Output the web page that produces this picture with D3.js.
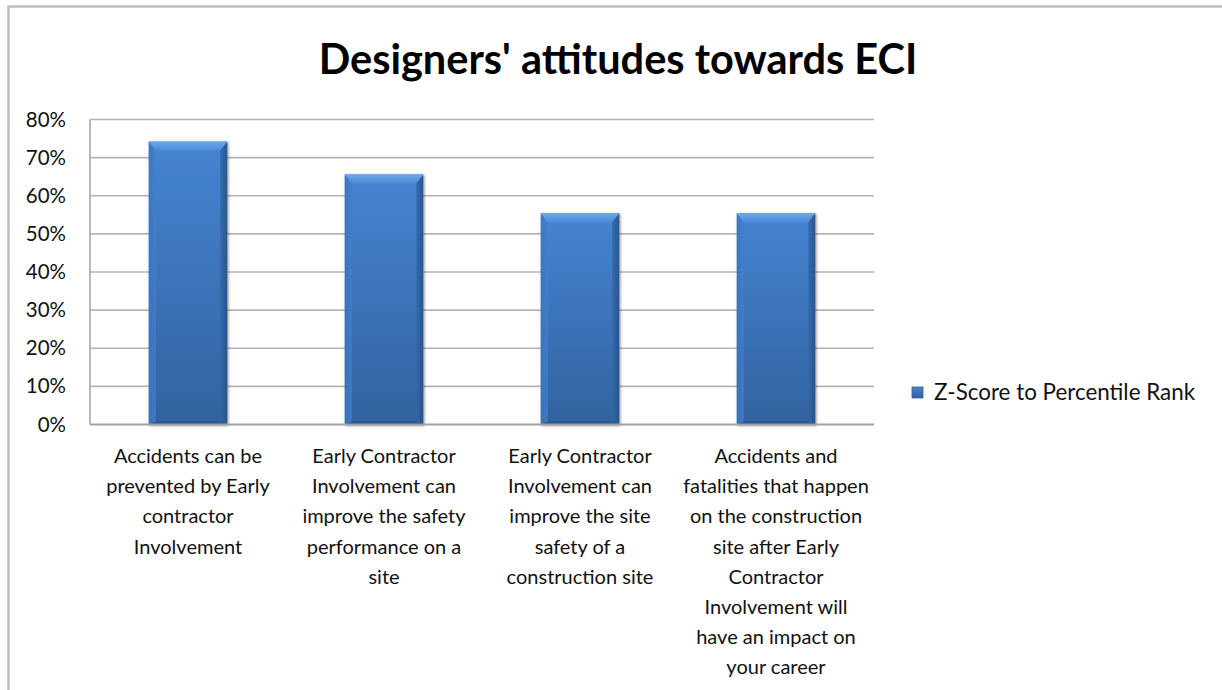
<!DOCTYPE html>
<html>
<head>
<meta charset="utf-8">
<script src="https://cdn.jsdelivr.net/npm/d3@7"></script>
<style>
  html, body { margin: 0; padding: 0; background: #fff; }
  svg { display: block; }
</style>
</head>
<body>
<svg id="chart" width="1222" height="690"></svg>
<script>
// Chart data
const title = "Designers' attitudes towards ECI";
const seriesName = "Z-Score to Percentile Rank";
const categories = [
  ["Accidents can be", "prevented by Early", "contractor", "Involvement"],
  ["Early Contractor", "Involvement can", "improve the safety", "performance on a", "site"],
  ["Early Contractor", "Involvement can", "improve the site", "safety of a", "construction site"],
  ["Accidents and", "fatalities that happen", "on the construction", "site after Early", "Contractor", "Involvement will", "have an impact on", "your career"]
];
const values = [0.742, 0.656, 0.554, 0.554];
const yTicks = [0, 0.1, 0.2, 0.3, 0.4, 0.5, 0.6, 0.7, 0.8];

const font = "Lato, 'Open Sans', sans-serif";
const svg = d3.select("#chart");

// Outer chart frame
svg.append("rect")
  .attr("x", 8.5).attr("y", 6.5)
  .attr("width", 1240).attr("height", 720)
  .attr("fill", "#fff")
  .attr("stroke", "#bdbdbd").attr("stroke-width", 2.5);

// Plot geometry
const plot = { left: 90, right: 874, top: 119.5, bottom: 424.5 };

const x = d3.scaleBand()
  .domain(d3.range(categories.length))
  .range([plot.left, plot.right])
  .paddingInner(0.6)
  .paddingOuter(0.3);

const y = d3.scaleLinear()
  .domain([0, 0.8])
  .range([plot.bottom, plot.top]);

// Gradients for the bevelled bars
const defs = svg.append("defs");
const g1 = defs.append("linearGradient").attr("id", "barFill")
  .attr("x1", 0).attr("y1", 0).attr("x2", 0).attr("y2", 1);
g1.append("stop").attr("offset", "0%").attr("stop-color", "#4684d2");
g1.append("stop").attr("offset", "100%").attr("stop-color", "#32629f");

const gTop = defs.append("linearGradient").attr("id", "bevelTop")
  .attr("x1", 0).attr("y1", 0).attr("x2", 0).attr("y2", 1);
gTop.append("stop").attr("offset", "0%").attr("stop-color", "#6fa8ea");
gTop.append("stop").attr("offset", "100%").attr("stop-color", "#4b8ad6");

const gLeft = defs.append("linearGradient").attr("id", "bevelLeft")
  .attr("x1", 0).attr("y1", 0).attr("x2", 1).attr("y2", 0);
gLeft.append("stop").attr("offset", "0%").attr("stop-color", "#3b74bd");
gLeft.append("stop").attr("offset", "100%").attr("stop-color", "#4380cb");

const gRight = defs.append("linearGradient").attr("id", "bevelRight")
  .attr("x1", 0).attr("y1", 0).attr("x2", 1).attr("y2", 0);
gRight.append("stop").attr("offset", "0%").attr("stop-color", "#3468aa");
gRight.append("stop").attr("offset", "100%").attr("stop-color", "#244f88");

const shadow = defs.append("filter").attr("id", "barShadow")
  .attr("x", "-20%").attr("y", "-10%").attr("width", "140%").attr("height", "120%");
shadow.append("feGaussianBlur").attr("in", "SourceAlpha").attr("stdDeviation", 1.6).attr("result", "b");
shadow.append("feOffset").attr("in", "b").attr("dx", 1).attr("dy", 1).attr("result", "o");
shadow.append("feComponentTransfer").attr("in", "o").attr("result", "s")
  .append("feFuncA").attr("type", "linear").attr("slope", 0.45);
const merge = shadow.append("feMerge");
merge.append("feMergeNode").attr("in", "s");
merge.append("feMergeNode").attr("in", "SourceGraphic");

// Gridlines
svg.append("g")
  .selectAll("line")
  .data(yTicks.slice(1))
  .join("line")
  .attr("x1", plot.left).attr("x2", plot.right)
  .attr("y1", d => y(d)).attr("y2", d => y(d))
  .attr("stroke", "#b4b4b4").attr("stroke-width", 1.6);

// Value axis line on the left
svg.append("line")
  .attr("x1", plot.left).attr("x2", plot.left)
  .attr("y1", plot.top).attr("y2", plot.bottom)
  .attr("stroke", "#a8a8a8").attr("stroke-width", 1.6);

// Y axis tick labels
const yAxis = d3.axisLeft(y)
  .tickValues(yTicks)
  .tickFormat(d3.format(".0%"))
  .tickSize(0)
  .tickPadding(24);
svg.append("g")
  .attr("transform", `translate(${plot.left},0)`)
  .call(yAxis)
  .call(g => g.select(".domain").remove())
  .call(g => g.selectAll("text")
    .attr("font-family", font)
    .attr("font-size", 20.5)
    .attr("fill", "#111"));

// Bars
const bars = svg.append("g").selectAll("g.bar")
  .data(values)
  .join("g")
  .attr("class", "bar")
  .attr("filter", "url(#barShadow)");

const bev = 7;
bars.each(function (v, i) {
  const g = d3.select(this);
  const x0 = x(i), w = x.bandwidth();
  const y0 = y(v), y1 = y(0);
  g.append("rect")
    .attr("x", x0).attr("y", y0)
    .attr("width", w).attr("height", y1 - y0)
    .attr("fill", "url(#barFill)");
  // left bevel
  g.append("path")
    .attr("d", `M${x0},${y0} L${x0 + bev},${y0 + bev} L${x0 + bev},${y1 - 2} L${x0},${y1} Z`)
    .attr("fill", "url(#bevelLeft)").attr("opacity", 0.8);
  // right bevel
  g.append("path")
    .attr("d", `M${x0 + w},${y0} L${x0 + w - bev},${y0 + bev} L${x0 + w - bev},${y1 - 2} L${x0 + w},${y1} Z`)
    .attr("fill", "url(#bevelRight)").attr("opacity", 0.85);
  // top bevel
  g.append("path")
    .attr("d", `M${x0},${y0} L${x0 + w},${y0} L${x0 + w - bev},${y0 + bev + 2} L${x0 + bev},${y0 + bev + 2} Z`)
    .attr("fill", "url(#bevelTop)");
  // bottom bevel
  g.append("path")
    .attr("d", `M${x0},${y1} L${x0 + w},${y1} L${x0 + w - bev},${y1 - 3} L${x0 + bev},${y1 - 3} Z`)
    .attr("fill", "#29548c").attr("opacity", 0.8);
});

// Category axis line
svg.append("line")
  .attr("x1", plot.left).attr("x2", plot.right)
  .attr("y1", plot.bottom).attr("y2", plot.bottom)
  .attr("stroke", "#a0a0a0").attr("stroke-width", 1.8);

// Category labels
const lineH = 30.2;
svg.append("g").selectAll("text")
  .data(categories)
  .join("text")
  .attr("x", (d, i) => x(i) + x.bandwidth() / 2)
  .attr("y", 463)
  .attr("text-anchor", "middle")
  .attr("font-family", font)
  .attr("font-size", 20)
  .attr("fill", "#111")
  .each(function (lines) {
    const t = d3.select(this);
    lines.forEach((ln, k) => {
      t.append("tspan")
        .attr("x", t.attr("x"))
        .attr("y", 463 + k * lineH)
        .text(ln);
    });
  });

// Title
svg.append("text")
  .attr("x", 618).attr("y", 74)
  .attr("text-anchor", "middle")
  .attr("font-family", font)
  .attr("font-weight", "bold")
  .attr("font-size", 41.5)
  .attr("fill", "#000")
  .text(title);

// Legend
const legend = svg.append("g").attr("transform", "translate(912,387)");
legend.append("rect")
  .attr("width", 11).attr("height", 11)
  .attr("fill", "url(#barFill)")
  .attr("stroke", "#2f5f9c").attr("stroke-width", 0.8);
legend.append("text")
  .attr("x", 22).attr("y", 13)
  .attr("font-family", font)
  .attr("font-size", 22.4)
  .attr("fill", "#111")
  .text(seriesName);
</script>
</body>
</html>
